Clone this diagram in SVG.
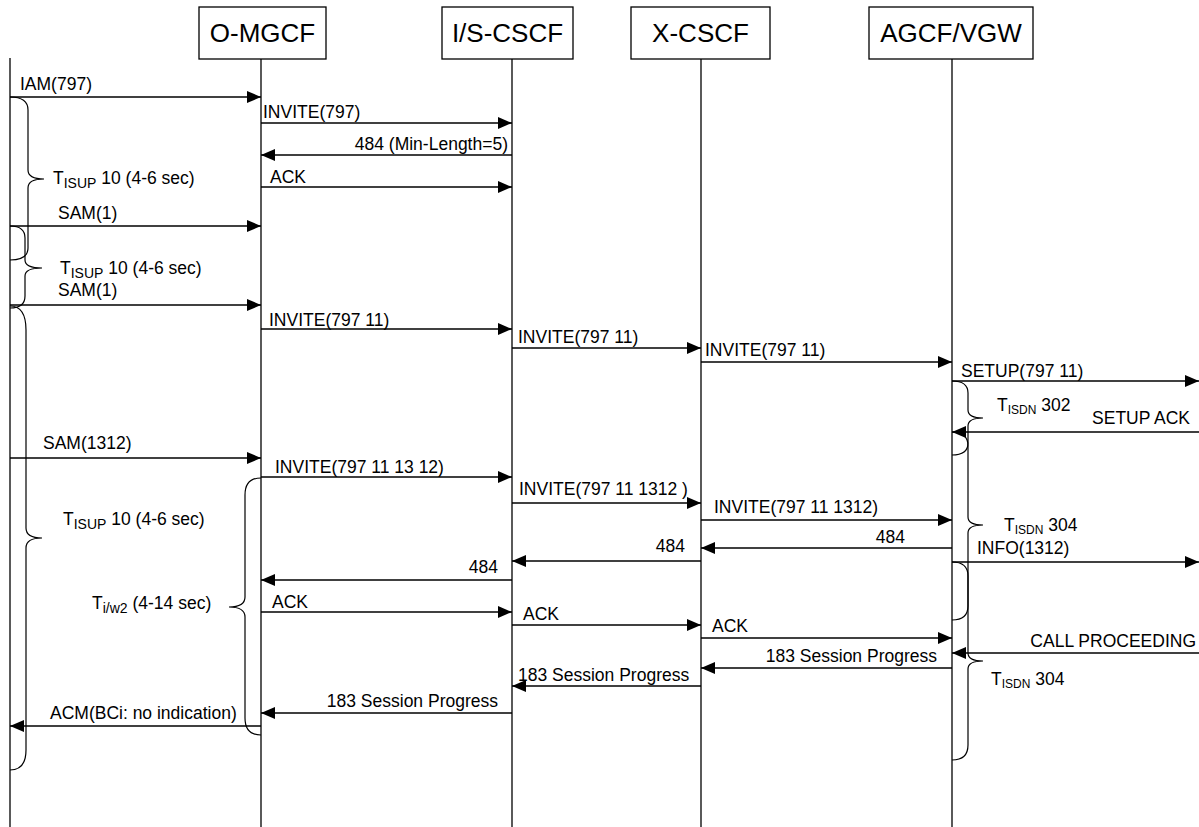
<svg xmlns="http://www.w3.org/2000/svg" width="1199" height="827" viewBox="0 0 1199 827">
<defs>
<marker id="ah" markerWidth="14" markerHeight="12" refX="14" refY="6" orient="auto" markerUnits="userSpaceOnUse"><path d="M0,0 L14,6 L0,12 z" fill="#000"/></marker>
<style>
.box{fill:#fff;stroke:#000;stroke-width:1.3}
.ll{stroke:#000;stroke-width:1.3;fill:none}
.msg{stroke:#000;stroke-width:1.3;fill:none;marker-end:url(#ah)}
.br{stroke:#000;stroke-width:1.2;fill:none}
.t{font-family:"Liberation Sans",Arial,sans-serif;font-size:17.5px;fill:#000}
.h{font-family:"Liberation Sans",Arial,sans-serif;font-size:26px;fill:#000;text-anchor:middle}
.r{text-anchor:end}
</style>
</defs>
<rect width="1199" height="827" fill="#fff"/>
<g id="lifelines">
<line class="ll" x1="10" y1="58" x2="10" y2="827"/>
<line class="ll" x1="261" y1="59" x2="261" y2="827"/>
<line class="ll" x1="512" y1="59" x2="512" y2="827"/>
<line class="ll" x1="701" y1="59" x2="701" y2="827"/>
<line class="ll" x1="952" y1="59" x2="952" y2="827"/>
</g>
<g id="node-omgcf"><rect class="box" x="199" y="7" width="127" height="52"/><text class="h" x="262.5" y="42">O-MGCF</text></g>
<g id="node-iscscf"><rect class="box" x="442" y="7" width="131" height="52"/><text class="h" x="507.5" y="42">I/S-CSCF</text></g>
<g id="node-xcscf"><rect class="box" x="631" y="7" width="139" height="52"/><text class="h" x="700.5" y="42">X-CSCF</text></g>
<g id="node-agcf"><rect class="box" x="869" y="7" width="164" height="52"/><text class="h" x="951" y="42">AGCF/VGW</text></g>
<g id="connectors">
<line class="msg" x1="10" y1="97" x2="261" y2="97"/>
<line class="msg" x1="261" y1="123" x2="512" y2="123"/>
<line class="msg" x1="512" y1="155" x2="261" y2="155"/>
<line class="msg" x1="261" y1="187" x2="512" y2="187"/>
<line class="msg" x1="10" y1="226" x2="261" y2="226"/>
<line class="msg" x1="10" y1="305" x2="261" y2="305"/>
<line class="msg" x1="261" y1="329" x2="512" y2="329"/>
<line class="msg" x1="512" y1="348" x2="701" y2="348"/>
<line class="msg" x1="701" y1="362" x2="952" y2="362"/>
<line class="msg" x1="952" y1="381" x2="1199" y2="381"/>
<line class="msg" x1="1199" y1="432" x2="952" y2="432"/>
<line class="msg" x1="10" y1="458" x2="261" y2="458"/>
<line class="msg" x1="261" y1="477" x2="512" y2="477"/>
<line class="msg" x1="512" y1="503" x2="701" y2="503"/>
<line class="msg" x1="701" y1="520" x2="952" y2="520"/>
<line class="msg" x1="952" y1="548" x2="701" y2="548"/>
<line class="msg" x1="701" y1="561" x2="512" y2="561"/>
<line class="msg" x1="952" y1="562" x2="1199" y2="562"/>
<line class="msg" x1="512" y1="580" x2="261" y2="580"/>
<line class="msg" x1="261" y1="612" x2="512" y2="612"/>
<line class="msg" x1="512" y1="625" x2="701" y2="625"/>
<line class="msg" x1="701" y1="638" x2="952" y2="638"/>
<line class="msg" x1="1199" y1="653" x2="952" y2="653"/>
<line class="msg" x1="952" y1="668" x2="701" y2="668"/>
<line class="msg" x1="701" y1="686" x2="512" y2="686"/>
<line class="msg" x1="512" y1="713" x2="261" y2="713"/>
<line class="msg" x1="261" y1="726" x2="10" y2="726"/>
</g>
<g id="labels">
<text class="t" x="20" y="90">IAM(797)</text>
<text class="t" x="263" y="118">INVITE(797)</text>
<text class="t r" x="508" y="150">484 (Min-Length=5)</text>
<text class="t" x="270" y="183">ACK</text>
<text class="t" x="58" y="219">SAM(1)</text>
<text class="t" x="58" y="296">SAM(1)</text>
<text class="t" x="269" y="326">INVITE(797 11)</text>
<text class="t" x="518" y="343">INVITE(797 11)</text>
<text class="t" x="705" y="356">INVITE(797 11)</text>
<text class="t" x="961" y="377">SETUP(797 11)</text>
<text class="t r" x="1190" y="424">SETUP ACK</text>
<text class="t" x="43" y="449">SAM(1312)</text>
<text class="t" x="275" y="473">INVITE(797 11 13 12)</text>
<text class="t" x="519" y="495">INVITE(797 11 1312 )</text>
<text class="t" x="714" y="513">INVITE(797 11 1312)</text>
<text class="t r" x="905" y="543">484</text>
<text class="t r" x="685" y="552">484</text>
<text class="t" x="977" y="554">INFO(1312)</text>
<text class="t r" x="498" y="573">484</text>
<text class="t" x="272" y="608">ACK</text>
<text class="t" x="523" y="620">ACK</text>
<text class="t" x="712" y="632">ACK</text>
<text class="t r" x="1196" y="647">CALL PROCEEDING</text>
<text class="t r" x="937" y="662">183 Session Progress</text>
<text class="t" x="518" y="681">183 Session Progress</text>
<text class="t r" x="498" y="707">183 Session Progress</text>
<text class="t" x="50" y="719">ACM(BCi: no indication)</text>
</g>
<g id="timer-isup-1">
<path class="br" d="M10,97 Q28,97 28,110 L28,170 Q28,179 44,179 Q28,179 28,188 L28,248 Q28,260 10,260"/>
<text class="t" x="53" y="184">T<tspan font-size="14" dy="4">ISUP</tspan><tspan dy="-4"> 10 (4-6 sec)</tspan></text>
</g>
<g id="timer-isup-2">
<path class="br" d="M10,226 Q25,226 25,238 L25,260 Q25,268 42,268 Q25,268 25,276 L25,296 Q25,308 10,308"/>
<text class="t" x="60" y="274">T<tspan font-size="14" dy="4">ISUP</tspan><tspan dy="-4"> 10 (4-6 sec)</tspan></text>
</g>
<g id="timer-isup-3">
<path class="br" d="M10,306 Q26,306 26,330 L26,528 Q26,538 42,538 Q26,538 26,548 L26,750 Q26,770 10,770"/>
<text class="t" x="63" y="525">T<tspan font-size="14" dy="4">ISUP</tspan><tspan dy="-4"> 10 (4-6 sec)</tspan></text>
</g>
<g id="timer-iw2">
<path class="br" d="M261,478 Q245,478 245,495 L245,597 Q245,607 229,607 Q245,607 245,617 L245,718 Q245,735 261,735"/>
<text class="t" x="92" y="609">T<tspan font-size="14" dy="4">i/w2</tspan><tspan dy="-4"> (4-14 sec)</tspan></text>
</g>
<g id="timer-isdn-302">
<path class="br" d="M952,381 Q968,381 968,393 L968,410 Q968,418 983,418 Q968,418 968,426 L968,443 Q968,455 952,455"/>
<text class="t" x="997" y="411">T<tspan font-size="12" dy="3">ISDN</tspan><tspan dy="-3"> 302</tspan></text>
</g>
<g id="timer-isdn-304-1">
<path class="br" d="M952,432 Q968,432 968,446 L968,517 Q968,525 983,525 Q968,525 968,533 L968,606 Q968,620 952,620"/>
<text class="t" x="1004" y="531">T<tspan font-size="12" dy="3">ISDN</tspan><tspan dy="-3"> 304</tspan></text>
</g>
<g id="timer-isdn-304-2">
<path class="br" d="M952,562 Q968,562 968,576 L968,653 Q968,661 983,661 Q968,661 968,669 L968,745 Q968,760 952,760"/>
<text class="t" x="991" y="685">T<tspan font-size="12" dy="3">ISDN</tspan><tspan dy="-3"> 304</tspan></text>
</g>
</svg>
